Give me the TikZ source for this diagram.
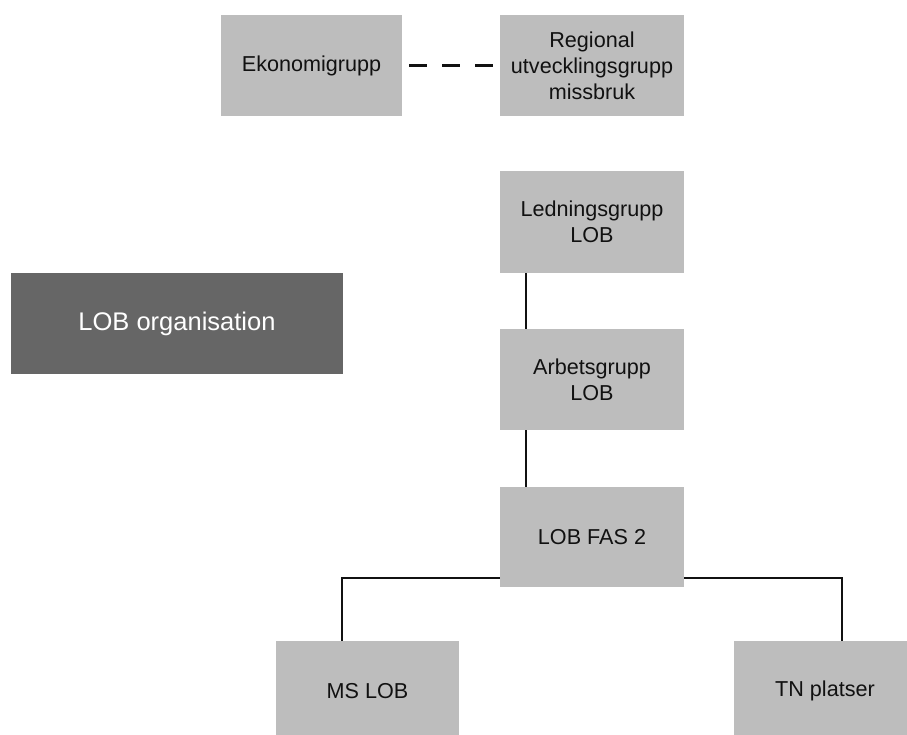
\documentclass[tikz,border=0pt]{standalone}
\usepackage{fontspec}
\setmainfont{Liberation Sans}
\definecolor{boxgray}{HTML}{BDBDBD}
\definecolor{darkbox}{HTML}{666666}
\definecolor{txt}{HTML}{111111}
\tikzset{
    orgbox/.style={fill=boxgray, text=txt, inner sep=0pt, align=center,
        minimum width=184pt, minimum height=101pt,
        font=\fontsize{21.6}{26}\selectfont},
    link/.style={line width=1.5pt, txt}
}
\begin{document}
\begin{tikzpicture}[x=1pt, y=-1pt]
    \useasboundingbox (0,0) rectangle (907,734);
    % rutor
    \node[orgbox, minimum width=181pt] (eko) at (311.5, 65.5) {Ekonomigrupp};
    \node[orgbox] (reg) at (592, 65.5) {Regional\\utvecklingsgrupp\\missbruk};
    \node[orgbox, minimum height=102pt] (led) at (592, 222) {Ledningsgrupp\\LOB};
    \node[orgbox] (arb) at (592, 379.5) {Arbetsgrupp\\LOB};
    \node[orgbox, minimum height=100pt] (fas) at (592, 537) {LOB FAS 2};
    \node[orgbox, minimum width=183pt, minimum height=100pt] (ms) at (367.5, 691) {MS LOB};
    \node[orgbox, minimum width=182pt, minimum height=100pt] (tn) at (825, 691) {TN platser};
    \node[orgbox, fill=darkbox, text=white, minimum width=332pt,
        font=\fontsize{25.5}{30}\selectfont] (org) at (177, 323.5) {LOB organisation};

    % linjer
    \draw[line width=3pt, txt, dash pattern=on 18pt off 15pt, shorten <=7pt, shorten >=7pt] (eko.east) -- (reg.west);
    \draw[link] ([xshift=-66pt]led.south) -- ([xshift=-66pt]arb.north);
    \draw[link] ([xshift=-66pt]arb.south) -- ([xshift=-66pt]fas.north);
    \draw[link] ([yshift=9pt]fas.south west) -| ([xshift=-25.5pt]ms.north);
    \draw[link] ([yshift=9pt]fas.south east) -| ([xshift=17pt]tn.north);
\end{tikzpicture}
\end{document}
